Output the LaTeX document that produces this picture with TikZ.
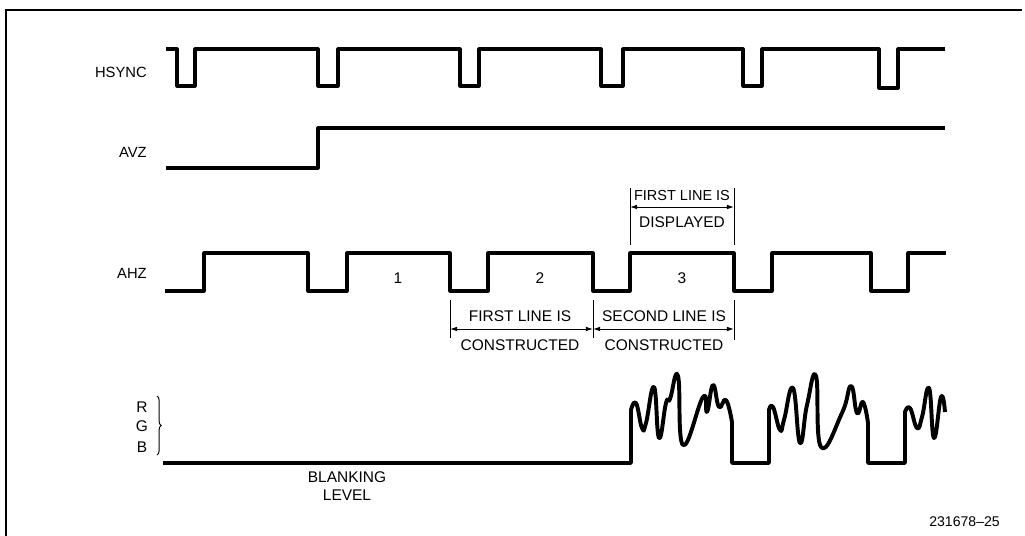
\documentclass[tikz,border=0pt]{standalone}
\usepackage{fontspec}
\setmainfont{Liberation Sans}
\usetikzlibrary{arrows.meta, decorations.pathreplacing}
\tikzstyle{signal} = [line width=2.2pt, line join=round]
\tikzstyle{video} = [line width=2.8pt, line join=round]
\tikzstyle{siglabel} = [anchor=east, inner sep=0pt, font=\fontsize{10.5}{12}\selectfont]
\tikzstyle{note} = [inner sep=0pt, font=\fontsize{11}{12}\selectfont]
\tikzstyle{tick} = [line width=0.6pt]
\tikzstyle{dimarrow} = [line width=0.7pt, {Latex[length=1.8mm,width=1.2mm]}-{Latex[length=1.8mm,width=1.2mm]}]

\begin{document}
\begin{tikzpicture}[x=0.025cm, y=-0.025cm]
\useasboundingbox (0,0) rectangle (1025,536);

% Frame
\draw[line width=0.8pt] (6,536) -- (6,10) -- (1022,10);

% Signal names
\node (hsync) [siglabel] at (147,72) {HSYNC};
\node (avz) [siglabel] at (147,152) {AVZ};
\node (ahz) [siglabel] at (147,273) {AHZ};
\node (r) [note] at (142,407) {R};
\node (g) [note] at (142,426) {G};
\node (b) [note] at (142,447) {B};
\draw[line width=0.7pt, decorate, decoration={brace, amplitude=3pt}] (157,396) -- (157,455);

% HSYNC
\draw[signal] (166,49) -- (177,49) -- (177,86) -- (195,86) -- (195,49)
  -- (318,49) -- (318,86) -- (338,86) -- (338,49)
  -- (460,49) -- (460,86) -- (479,86) -- (479,49)
  -- (601,49) -- (601,86) -- (623,86) -- (623,49)
  -- (743,49) -- (743,86) -- (762,86) -- (762,49)
  -- (879,49) -- (879,88) -- (898,88) -- (898,49) -- (945,49);

% AVZ
\draw[signal] (166,168) -- (318,168) -- (318,128) -- (945,128);

% AHZ
\draw[signal] (165,291) -- (204,291) -- (204,253) -- (308,253) -- (308,291)
  -- (347,291) -- (347,253) -- (450,253) -- (450,291)
  -- (488,291) -- (488,253) -- (593,253) -- (593,291)
  -- (630,291) -- (630,253) -- (734,253) -- (734,291)
  -- (772,291) -- (772,253) -- (871,253) -- (871,291)
  -- (908,291) -- (908,253) -- (946,253);
\node (one) [note] at (398,278) {1};
\node (two) [note] at (540,278) {2};
\node (three) [note] at (682,278) {3};

% Line constructed / displayed
\coordinate (c1) at (450,329);
\coordinate (c2) at (593,329);
\coordinate (c3) at (734,329);
\coordinate (d1) at (630,207);
\coordinate (d2) at (734,207);
\draw[tick] (450,300) -- (450,338);
\draw[tick] (593,300) -- (593,338);
\draw[tick] (734,300) -- (734,340);
\draw[tick] (630,188) -- (630,245);
\draw[tick] (734,188) -- (734,245);
\draw[dimarrow] (c1) -- (c2);
\draw[dimarrow] (c2) -- (c3);
\draw[dimarrow] (d1) -- (d2);
\node (first) [note] at (520,316) {FIRST LINE IS};
\node (firstc) [note] at (520,345) {CONSTRUCTED};
\node (second) [note] at (664,316) {SECOND LINE IS};
\node (secondc) [note] at (664,345) {CONSTRUCTED};
\node (shown) [note, font=\fontsize{10.3}{12}\selectfont] at (682,196) {FIRST LINE IS};
\node (shownd) [note] at (682,222) {DISPLAYED};

% RGB
\draw[video] (163,463) -- (631,463) -- (631,410)
  -- plot[smooth, tension=0.8] coordinates {(631,410) (636,403) (642,428) (646,423) (654,387) (659,438) (666,403) (670,399) (678,376) (683,445) (703,397) (707,412) (713,385) (719,407) (726,400) (732,422)}
  -- (732,463) -- (769,463) -- (769,410)
  -- plot[smooth, tension=0.8] coordinates {(769,410) (773,407) (780,430) (784,420) (793,388) (800,443) (807,405) (816,376) (821,447) (842,413) (851,386) (857,413) (863,402) (868,423)}
  -- (868,463) -- (905,463) -- (905,412)
  -- plot[smooth, tension=0.8] coordinates {(905,412) (910,408) (917,428) (922,417) (929,388) (934,438) (941,397) (945,412)};
\node (blank) [note] at (347,477) {BLANKING};
\node (level) [note] at (347,495) {LEVEL};

% Figure number
\node (fig) [note, anchor=east, font=\fontsize{10}{11}\selectfont] at (1000,522) {231678--25};

\end{tikzpicture}
\end{document}
